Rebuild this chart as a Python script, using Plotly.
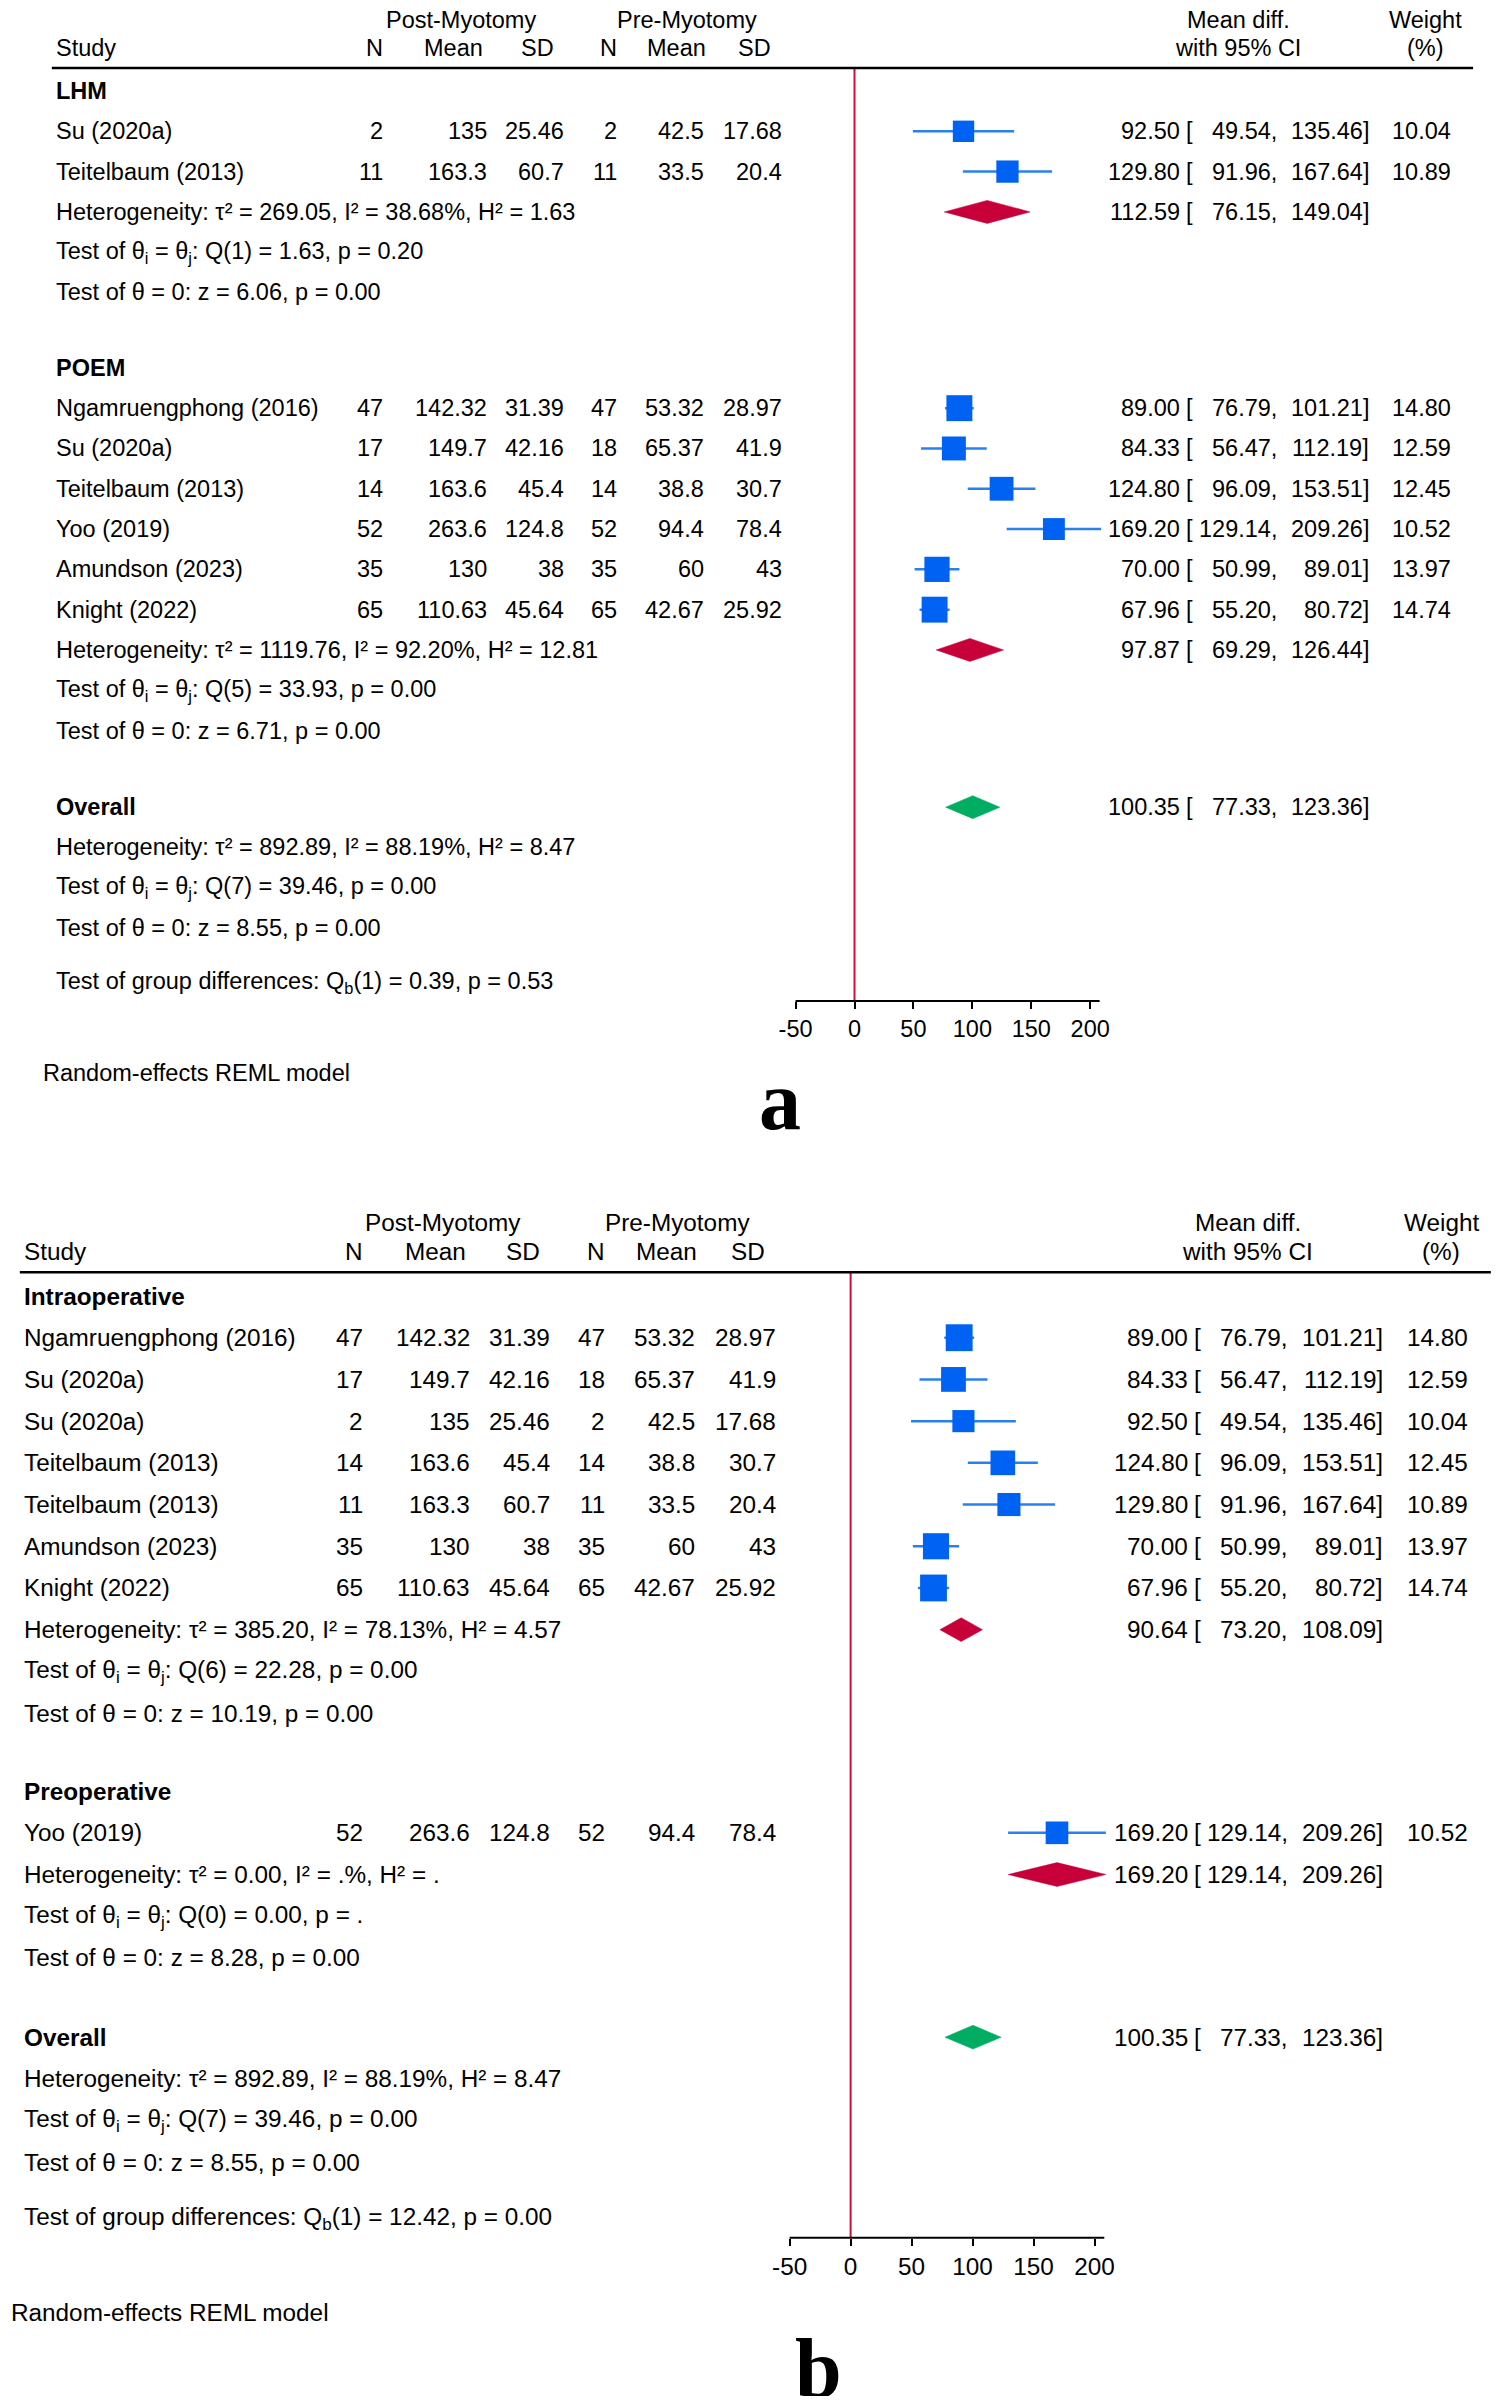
import math
import plotly.graph_objects as go

W, H = 1499, 2404
OFF = 8                      # default body margin of the html page
FW, FH = W - 2 * OFF, H - 2 * OFF
SPLIT = 1200                 # page pixel row separating panel a and panel b
FONT = "Liberation Sans, Arial, sans-serif"
SERIF = "Liberation Serif, Times New Roman, serif"

# ---------------- Panel a data ----------------
a_group_names = ["LHM", "POEM"]
a_study = ["Su (2020a)", "Teitelbaum (2013)", "Ngamruengphong (2016)", "Su (2020a)",
           "Teitelbaum (2013)", "Yoo (2019)", "Amundson (2023)", "Knight (2022)"]
a_group = ["LHM", "LHM", "POEM", "POEM", "POEM", "POEM", "POEM", "POEM"]
a_post_n = [2, 11, 47, 17, 14, 52, 35, 65]
a_post_mean = [135, 163.3, 142.32, 149.7, 163.6, 263.6, 130, 110.63]
a_post_sd = [25.46, 60.7, 31.39, 42.16, 45.4, 124.8, 38, 45.64]
a_pre_n = [2, 11, 47, 18, 14, 52, 35, 65]
a_pre_mean = [42.5, 33.5, 53.32, 65.37, 38.8, 94.4, 60, 42.67]
a_pre_sd = [17.68, 20.4, 28.97, 41.9, 30.7, 78.4, 43, 25.92]
a_md = [92.50, 129.80, 89.00, 84.33, 124.80, 169.20, 70.00, 67.96]
a_lo = [49.54, 91.96, 76.79, 56.47, 96.09, 129.14, 50.99, 55.20]
a_hi = [135.46, 167.64, 101.21, 112.19, 153.51, 209.26, 89.01, 80.72]
a_weight = [10.04, 10.89, 14.80, 12.59, 12.45, 10.52, 13.97, 14.74]
a_sub_md = [112.59, 97.87]
a_sub_lo = [76.15, 69.29]
a_sub_hi = [149.04, 126.44]
a_sub_tau2 = ["269.05", "1119.76"]
a_sub_i2 = ["38.68%", "92.20%"]
a_sub_h2 = ["1.63", "12.81"]
a_sub_qdf = [1, 5]
a_sub_q = ["1.63", "33.93"]
a_sub_qp = ["0.20", "0.00"]
a_sub_z = ["6.06", "6.71"]
a_sub_zp = ["0.00", "0.00"]
a_qb = ["0.39", "0.53"]

# ---------------- Panel b data ----------------
b_group_names = ["Intraoperative", "Preoperative"]
b_study = ["Ngamruengphong (2016)", "Su (2020a)", "Su (2020a)", "Teitelbaum (2013)",
           "Teitelbaum (2013)", "Amundson (2023)", "Knight (2022)", "Yoo (2019)"]
b_group = ["Intraoperative"] * 7 + ["Preoperative"]
b_post_n = [47, 17, 2, 14, 11, 35, 65, 52]
b_post_mean = [142.32, 149.7, 135, 163.6, 163.3, 130, 110.63, 263.6]
b_post_sd = [31.39, 42.16, 25.46, 45.4, 60.7, 38, 45.64, 124.8]
b_pre_n = [47, 18, 2, 14, 11, 35, 65, 52]
b_pre_mean = [53.32, 65.37, 42.5, 38.8, 33.5, 60, 42.67, 94.4]
b_pre_sd = [28.97, 41.9, 17.68, 30.7, 20.4, 43, 25.92, 78.4]
b_md = [89.00, 84.33, 92.50, 124.80, 129.80, 70.00, 67.96, 169.20]
b_lo = [76.79, 56.47, 49.54, 96.09, 91.96, 50.99, 55.20, 129.14]
b_hi = [101.21, 112.19, 135.46, 153.51, 167.64, 89.01, 80.72, 209.26]
b_weight = [14.80, 12.59, 10.04, 12.45, 10.89, 13.97, 14.74, 10.52]
b_sub_md = [90.64, 169.20]
b_sub_lo = [73.20, 129.14]
b_sub_hi = [108.09, 209.26]
b_sub_tau2 = ["385.20", "0.00"]
b_sub_i2 = ["78.13%", ".%"]
b_sub_h2 = ["4.57", "."]
b_sub_qdf = [6, 0]
b_sub_q = ["22.28", "0.00"]
b_sub_qp = ["0.00", "."]
b_sub_z = ["10.19", "8.28"]
b_sub_zp = ["0.00", "0.00"]
b_qb = ["12.42", "0.00"]

# ---------------- Overall (both panels) ----------------
overall_md = 100.35
overall_lo = 77.33
overall_hi = 123.36
overall_tau2 = "892.89"
overall_i2 = "88.19%"
overall_h2 = "8.47"
overall_qdf = 7
overall_q = "39.46"
overall_qp = "0.00"
overall_z = "8.55"
overall_zp = "0.00"

tick_vals = [-50, 0, 50, 100, 150, 200]
col_headers = ["N", "Mean", "SD", "N", "Mean", "SD"]

SQ_COLOR = "#0062f2"
CI_COLOR = "#2a80ec"
SUB_COLOR = "#c8003a"
OV_COLOR = "#00ad62"
REF_COLOR = "#c8103c"

panels = [
    dict(name="a", x0=51, y0=91, scale=1.0, xaxis="x", yaxis="y", xkey="xaxis", ykey="yaxis",
         ytop=OFF, ybot=SPLIT,
         groups=a_group_names, study=a_study, group=a_group,
         post_n=a_post_n, post_mean=a_post_mean, post_sd=a_post_sd,
         pre_n=a_pre_n, pre_mean=a_pre_mean, pre_sd=a_pre_sd,
         md=a_md, lo=a_lo, hi=a_hi, weight=a_weight,
         sub_md=a_sub_md, sub_lo=a_sub_lo, sub_hi=a_sub_hi,
         tau2=a_sub_tau2, i2=a_sub_i2, h2=a_sub_h2, qdf=a_sub_qdf, q=a_sub_q,
         qp=a_sub_qp, z=a_sub_z, zp=a_sub_zp, qb=a_qb,
         letter_xy=(779, 1101)),
    dict(name="b", x0=19, y0=1296, scale=1.035, xaxis="x2", yaxis="y2", xkey="xaxis2", ykey="yaxis2",
         ytop=SPLIT, ybot=OFF + FH,
         groups=b_group_names, study=b_study, group=b_group,
         post_n=b_post_n, post_mean=b_post_mean, post_sd=b_post_sd,
         pre_n=b_pre_n, pre_mean=b_pre_mean, pre_sd=b_pre_sd,
         md=b_md, lo=b_lo, hi=b_hi, weight=b_weight,
         sub_md=b_sub_md, sub_lo=b_sub_lo, sub_hi=b_sub_hi,
         tau2=b_sub_tau2, i2=b_sub_i2, h2=b_sub_h2, qdf=b_sub_qdf, q=b_sub_q,
         qp=b_sub_qp, z=b_sub_z, zp=b_sub_zp, qb=b_qb,
         letter_xy=(817, 2368)),
]

fig = go.Figure()
annotations = []
shapes = []
layout_axes = {}


def px_x(px):
    return (px - OFF) / FW


def px_y(py):
    return 1 - (py - OFF) / FH


def g(v):
    return f"{v:g}"


def txt(xp, yp, s, anchor, size, family=FONT):
    annotations.append(dict(
        x=px_x(xp), y=px_y(yp), xref="paper", yref="paper", text=s,
        showarrow=False, xanchor=anchor, yanchor="middle",
        font=dict(size=size, family=family, color="black"),
        borderpad=0, borderwidth=0))


for p in panels:
    sc = p["scale"]
    x0, y0 = p["x0"], p["y0"]
    step = 40.3 * sc
    fs = 23.5 * sc
    xa, ya = p["xaxis"], p["yaxis"]

    def X(lx):
        return x0 + lx * sc

    def Y(slot):
        return y0 + slot * step

    num_right = [329, 433, 511, 564, 651, 730]
    hdr_right = [329, 429, 501, 564, 653, 719]
    est_right, brk_left, lo_right, hi_right, w_right = 1130, 1136, 1227, 1319, 1402
    zero_px = X(802.5)
    ppu = 1.184 * sc
    r0, r1 = -60, 215
    dom = [px_x(zero_px + r0 * ppu), px_x(zero_px + r1 * ppu)]

    def est_text(yp, md, lo, hi, w=None):
        txt(X(est_right), yp, f"{md:.2f}", "right", fs)
        txt(X(brk_left), yp, "[", "left", fs)
        txt(X(lo_right), yp, f"{lo:.2f},", "right", fs)
        txt(X(hi_right), yp, f"{hi:.2f}]", "right", fs)
        if w is not None:
            txt(X(w_right), yp, f"{w:.2f}", "right", fs)

    def diamond(yp, md, lo, hi, color):
        hh = 11.5 * sc
        fig.add_trace(go.Scatter(
            x=[lo, md, hi, md, lo], y=[yp, yp - hh, yp, yp + hh, yp],
            xaxis=xa, yaxis=ya, mode="lines", fill="toself",
            fillcolor=color, line=dict(color=color, width=0.5),
            hoverinfo="skip", showlegend=False))

    # header
    top_y = y0 - 71 * sc
    txt(X(407), top_y, "Post-Myotomy", "center", fs)
    txt(X(634), top_y, "Pre-Myotomy", "center", fs)
    txt(X(0), y0 - 43 * sc, "Study", "left", fs)
    for hx, ht in zip(hdr_right, col_headers):
        txt(X(hx), y0 - 43 * sc, ht, "right", fs)
    txt(X(1188), top_y, "Mean diff.", "center", fs)
    txt(X(1188), y0 - 43 * sc, "with 95% CI", "center", fs)
    txt(X(1376), top_y, "Weight", "center", fs)
    txt(X(1376), y0 - 43 * sc, "(%)", "center", fs)
    header_line_y = y0 - 23 * sc
    shapes.append(dict(type="line", xref="paper", yref=ya, x0=px_x(X(-4)), x1=px_x(X(1424)),
                       y0=header_line_y, y1=header_line_y, line=dict(color="black", width=2.5)))

    ci_x, ci_y, sq_x, sq_y, sq_s = [], [], [], [], []
    slot = 0.0
    for gi, gname in enumerate(p["groups"]):
        if gi > 0:
            slot += 1.87
        txt(X(0), Y(slot), f"<b>{gname}</b>", "left", fs)
        slot += 1
        for i, grp in enumerate(p["group"]):
            if grp != gname:
                continue
            yp = Y(slot)
            txt(X(0), yp, p["study"][i], "left", fs)
            vals = [p["post_n"][i], p["post_mean"][i], p["post_sd"][i],
                    p["pre_n"][i], p["pre_mean"][i], p["pre_sd"][i]]
            for cx, v in zip(num_right, vals):
                txt(X(cx), yp, g(v), "right", fs)
            ci_x += [p["lo"][i], p["hi"][i], None]
            ci_y += [yp, yp, None]
            sq_x.append(p["md"][i])
            sq_y.append(yp)
            sq_s.append(6.75 * math.sqrt(p["weight"][i]) * sc)
            est_text(yp, p["md"][i], p["lo"][i], p["hi"][i], p["weight"][i])
            slot += 1
        yp = Y(slot)
        diamond(yp, p["sub_md"][gi], p["sub_lo"][gi], p["sub_hi"][gi], SUB_COLOR)
        est_text(yp, p["sub_md"][gi], p["sub_lo"][gi], p["sub_hi"][gi])
        txt(X(0), yp, f"Heterogeneity: τ² = {p['tau2'][gi]}, I² = {p['i2'][gi]}, "
                      f"H² = {p['h2'][gi]}", "left", fs)
        txt(X(0), Y(slot + 1), f"Test of θ<sub>i</sub> = θ<sub>j</sub>: Q({p['qdf'][gi]}) = {p['q'][gi]}, "
                               f"p = {p['qp'][gi]}", "left", fs)
        txt(X(0), Y(slot + 2), f"Test of θ = 0: z = {p['z'][gi]}, p = {p['zp'][gi]}", "left", fs)
        slot += 2

    # overall
    slot += 1.9
    yp = Y(slot)
    txt(X(0), yp, "<b>Overall</b>", "left", fs)
    diamond(yp, overall_md, overall_lo, overall_hi, OV_COLOR)
    est_text(yp, overall_md, overall_lo, overall_hi)
    txt(X(0), Y(slot + 1), f"Heterogeneity: τ² = {overall_tau2}, I² = {overall_i2}, "
                           f"H² = {overall_h2}", "left", fs)
    txt(X(0), Y(slot + 2), f"Test of θ<sub>i</sub> = θ<sub>j</sub>: Q({overall_qdf}) = {overall_q}, "
                           f"p = {overall_qp}", "left", fs)
    txt(X(0), Y(slot + 3), f"Test of θ = 0: z = {overall_z}, p = {overall_zp}", "left", fs)
    slot += 3 + 1.35
    txt(X(0), Y(slot), f"Test of group differences: Q<sub>b</sub>(1) = {p['qb'][0]}, p = {p['qb'][1]}",
        "left", fs)
    axis_y = Y(slot + 0.46)

    # reference line at 0 and axis line
    shapes.append(dict(type="line", xref=xa, yref=ya, x0=0, x1=0,
                       y0=header_line_y, y1=axis_y, line=dict(color=REF_COLOR, width=2), layer="below"))
    shapes.append(dict(type="line", xref=xa, yref=ya, x0=tick_vals[0], x1=208,
                       y0=axis_y, y1=axis_y, line=dict(color="black", width=2)))

    # CI lines and squares
    fig.add_trace(go.Scatter(x=ci_x, y=ci_y, xaxis=xa, yaxis=ya, mode="lines",
                             line=dict(color=CI_COLOR, width=2.5), hoverinfo="skip", showlegend=False))
    fig.add_trace(go.Scatter(x=sq_x, y=sq_y, xaxis=xa, yaxis=ya, mode="markers",
                             marker=dict(symbol="square", size=sq_s, color=SQ_COLOR, opacity=1,
                                         line=dict(width=0)),
                             hoverinfo="skip", showlegend=False, cliponaxis=False))

    layout_axes[p["xkey"]] = dict(
        domain=dom, range=[r0, r1], anchor="free", position=px_y(axis_y),
        showgrid=False, zeroline=False, showline=False,
        tickmode="array", tickvals=tick_vals, ticktext=[str(t) for t in tick_vals],
        ticks="outside", ticklen=7, tickwidth=2, tickcolor="black",
        tickfont=dict(size=fs, family=FONT, color="black"), fixedrange=True)
    layout_axes[p["ykey"]] = dict(
        domain=[px_y(p["ybot"]), px_y(p["ytop"])], range=[p["ybot"], p["ytop"]],
        anchor=xa, visible=False, fixedrange=True)

    # footnote and panel letter
    txt(X(-13), axis_y + 72 * sc, "Random-effects REML model", "left", fs)
    lx, ly = p["letter_xy"]
    txt(lx, ly, f"<b>{p['name']}</b>", "center", 84, family=SERIF)

fig.update_layout(
    width=FW, height=FH, autosize=False,
    margin=dict(l=0, r=0, t=0, b=0, pad=0),
    paper_bgcolor="white", plot_bgcolor="rgba(0,0,0,0)",
    annotations=annotations, shapes=shapes, showlegend=False,
    **layout_axes,
)

fig.write_html("out.html")
